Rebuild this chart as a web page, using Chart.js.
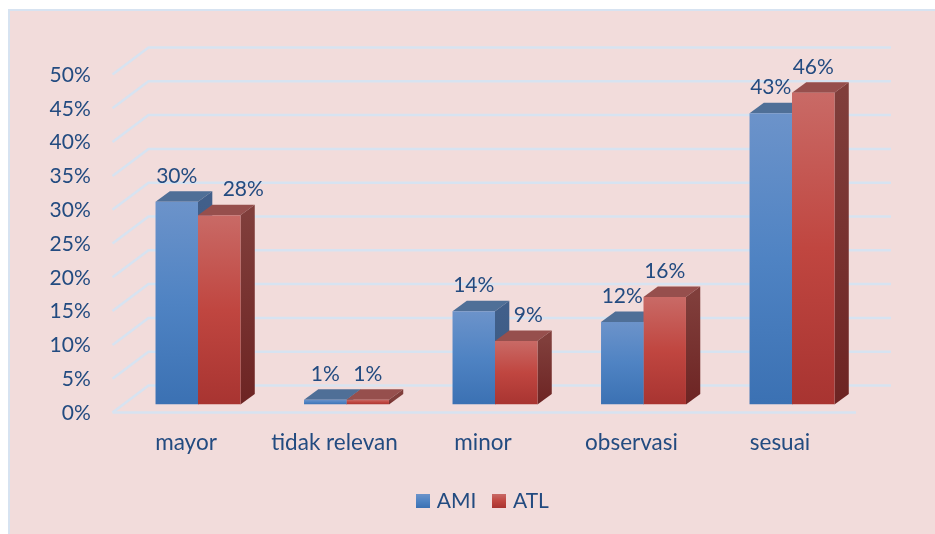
<!DOCTYPE html>
<html>
<head>
<meta charset="utf-8">
<title>AMI ATL</title>
<script src="https://cdn.jsdelivr.net/npm/chart.js@4"></script>
<style>
  html, body { margin: 0; padding: 0; background: #fff; overflow: hidden; }
  canvas { display: block; }
</style>
</head>
<body>
<canvas id="chart" width="935" height="534"></canvas>
<script>
const categories = ["mayor", "tidak relevan", "minor", "observasi", "sesuai"];
const amiValues = [30, 0.7, 13.8, 12.2, 43.1];
const atlValues = [28, 0.7, 9.4, 15.9, 46.1];
const yTicks = [0, 5, 10, 15, 20, 25, 30, 35, 40, 45, 50];

const textColor = "#234b80";
const fontName = "Lato, sans-serif";
const fontSize = 21;

// colours of the faces, [top of gradient, middle, bottom]
const blue = { front: ["#6c93ca", "#4f83c3", "#3b71b3"], top: "#4f6f97", side: ["#415f8a", "#37587f"] };
const red = { front: ["#c96a66", "#c04640", "#a83431"], top: "#964f4d", side: ["#803e3b", "#6d2423"] };

// depth of the bars and of the back wall
const barDepth = { x: 14.3, y: -10.5 };
const wallDepth = { x: 36, y: -27 };
const wallShift = 8; // front edge of the wall sits below the bars

// the two labels that were moved aside in the original
const labelNudge = { "1-0": 24, "1-2": 12 };

function frontGradient(ctx, top, bottom, colors) {
  const g = ctx.createLinearGradient(0, top, 0, bottom);
  g.addColorStop(0, colors[0]);
  g.addColorStop(0.5, colors[1]);
  g.addColorStop(1, colors[2]);
  return g;
}

function barFill(colors) {
  return function (c) {
    const y = c.chart.scales.y;
    if (c.dataIndex === undefined || !y || !c.parsed) return colors[1];
    return frontGradient(c.chart.ctx, y.getPixelForValue(c.parsed.y), y.getPixelForValue(0), colors);
  };
}

// small canvas used as legend marker, so the gap to the text can be tighter than a normal box
function legendSwatch(colors) {
  const cv = document.createElement("canvas");
  cv.width = 14;
  cv.height = 14;
  const c = cv.getContext("2d");
  c.fillStyle = frontGradient(c, 0, 14, colors);
  c.fillRect(0, 0, 14, 14);
  return cv;
}

const framePlugin = {
  id: "frame",
  beforeDraw(chart) {
    const ctx = chart.ctx;
    ctx.save();
    ctx.fillStyle = "#f2dcdb";
    ctx.fillRect(9, 10, 930, 530);
    ctx.strokeStyle = "#d7e3f1";
    ctx.lineWidth = 2;
    ctx.strokeRect(9, 10, 930, 530);
    ctx.restore();
  }
};

// legend is centred on the whole frame, not on the plot
const legendShiftPlugin = {
  id: "legendShift",
  afterLayout(chart) {
    chart.legend.left += 51.5;
    chart.legend.right += 51.5;
  }
};

const wallPlugin = {
  id: "wall",
  beforeDatasetsDraw(chart) {
    const ctx = chart.ctx;
    const y = chart.scales.y;
    const frontX = 112.5;
    const backX = frontX + wallDepth.x;
    ctx.save();
    ctx.strokeStyle = "#d7e3f1";
    ctx.lineWidth = 2.5;
    yTicks.forEach(function (v) {
      const py = y.getPixelForValue(v) + wallShift;
      ctx.beginPath();
      ctx.moveTo(frontX, py);
      ctx.lineTo(backX, py + wallDepth.y);
      ctx.lineTo(891, py + wallDepth.y);
      ctx.stroke();
    });
    // front edge of the floor
    const py = y.getPixelForValue(0) + wallShift;
    ctx.beginPath();
    ctx.moveTo(frontX, py);
    ctx.lineTo(856, py);
    ctx.stroke();

    // top and side faces, AMI first so ATL lies over it
    [blue, red].forEach(function (colors, d) {
      chart.getDatasetMeta(d).data.forEach(function (bar) {
        const p = bar.getProps(["x", "y", "base", "width"], true);
        const left = p.x - p.width / 2;
        const right = p.x + p.width / 2;
        ctx.fillStyle = colors.top;
        ctx.beginPath();
        ctx.moveTo(left, p.y);
        ctx.lineTo(left + barDepth.x, p.y + barDepth.y);
        ctx.lineTo(right + barDepth.x, p.y + barDepth.y);
        ctx.lineTo(right, p.y);
        ctx.closePath();
        ctx.fill();
        const g = ctx.createLinearGradient(0, p.y, 0, p.base);
        g.addColorStop(0, colors.side[0]);
        g.addColorStop(1, colors.side[1]);
        ctx.fillStyle = g;
        ctx.beginPath();
        ctx.moveTo(right, p.y);
        ctx.lineTo(right + barDepth.x, p.y + barDepth.y);
        ctx.lineTo(right + barDepth.x, p.base + barDepth.y);
        ctx.lineTo(right, p.base);
        ctx.closePath();
        ctx.fill();
      });
    });
    ctx.restore();
  }
};

const valueLabelPlugin = {
  id: "valueLabels",
  afterDatasetsDraw(chart) {
    const ctx = chart.ctx;
    ctx.save();
    ctx.font = fontSize + "px " + fontName;
    ctx.fillStyle = textColor;
    ctx.textAlign = "center";
    ctx.textBaseline = "middle";
    chart.data.datasets.forEach(function (ds, d) {
      chart.getDatasetMeta(d).data.forEach(function (bar, i) {
        const nudge = labelNudge[d + "-" + i] || 0;
        ctx.fillText(Math.round(ds.data[i]) + "%", bar.x + nudge, bar.y - 25.5);
      });
    });
    ctx.restore();
  }
};

new Chart(document.getElementById("chart"), {
  type: "bar",
  data: {
    labels: categories,
    datasets: [
      { label: "AMI", data: amiValues, backgroundColor: barFill(blue.front), borderWidth: 0, swatch: legendSwatch(blue.front) },
      { label: "ATL", data: atlValues, backgroundColor: barFill(red.front), borderWidth: 0, swatch: legendSwatch(red.front) }
    ]
  },
  options: {
    responsive: false,
    animation: false,
    categoryPercentage: 0.572,
    barPercentage: 1,
    layout: { padding: { top: 66.5, right: 68.75, bottom: 12.5, left: 0 } },
    scales: {
      x: {
        grid: { display: false, drawTicks: false },
        border: { display: false },
        ticks: { color: textColor, font: { family: fontName, size: 22.5 }, padding: 25, labelOffset: -12, maxRotation: 0, autoSkip: false },
        afterFit(scale) { scale.height = 66; scale.paddingLeft = 0; scale.paddingRight = 0; }
      },
      y: {
        min: 0,
        max: 50,
        afterBuildTicks(scale) { scale.ticks = yTicks.map(function (v) { return { value: v }; }); },
        grid: { display: false, drawTicks: false },
        border: { display: false },
        ticks: {
          color: textColor,
          font: { family: fontName, size: fontSize },
          padding: 33,
          labelOffset: 8.5,
          callback: function (v) { return v + "%"; }
        },
        afterFit(scale) { scale.width = 123.75; scale.paddingTop = 0; scale.paddingBottom = 0; }
      }
    },
    plugins: {
      tooltip: { enabled: false },
      legend: {
        position: "bottom",
        labels: {
          color: textColor,
          font: { family: fontName, size: fontSize },
          usePointStyle: true,
          pointStyleWidth: 6,
          padding: 20,
          generateLabels(chart) {
            return chart.data.datasets.map(function (ds, i) {
              return {
                text: ds.label,
                fontColor: textColor,
                pointStyle: ds.swatch,
                fillStyle: "rgba(0,0,0,0)",
                strokeStyle: "rgba(0,0,0,0)",
                lineWidth: 0,
                datasetIndex: i
              };
            });
          }
        }
      }
    }
  },
  plugins: [framePlugin, legendShiftPlugin, wallPlugin, valueLabelPlugin]
});
</script>
</body>
</html>
